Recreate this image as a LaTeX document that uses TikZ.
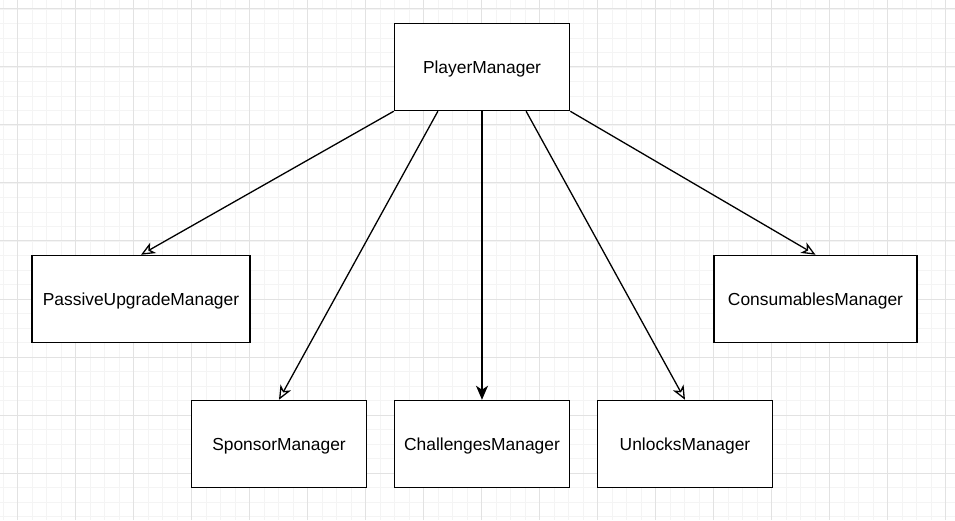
\documentclass[tikz,border=0pt]{standalone}
\usepackage{fontspec}
\setmainfont{Liberation Sans}
\usetikzlibrary{arrows.meta, calc}
\definecolor{gridmajor}{HTML}{E2E2E2}
\definecolor{gridminor}{HTML}{F4F4F4}

\begin{document}
\begin{tikzpicture}[x=1pt, y=1pt, font=\fontsize{17.4}{20}\selectfont,
  mgr/.style={draw, line width=1.5pt, fill=white, minimum width=175pt, minimum height=87pt, inner sep=0pt, text height=12.5pt, text depth=0pt},
  link/.style={line width=1.3pt, -{Stealth[open, length=14pt, width=12pt, inset=4pt]}},
  strong/.style={line width=1.3pt, -{Stealth[length=14pt, width=12pt, inset=4pt]}}]
\useasboundingbox (0,0) rectangle (955,520);
\fill[white] (0,0) rectangle (955,520);
% background grid
\foreach \i in {0,...,65} { \draw[gridminor, line width=0.8pt] ({3+14.5*\i},0) -- ({3+14.5*\i},520); }
\foreach \j in {0,...,35} { \draw[gridminor, line width=0.8pt] (0,{511-14.5*\j}) -- (955,{511-14.5*\j}); }
\foreach \i in {0,...,16} { \draw[gridmajor, line width=1pt] ({17.5+58*\i},0) -- ({17.5+58*\i},520); }
\foreach \j in {0,...,8} { \draw[gridmajor, line width=1pt] (0,{511-58*\j}) -- (955,{511-58*\j}); }

\node[mgr] (player) at (482,453) {PlayerManager};
\node[mgr, minimum width=218pt] (passive) at (141,221) {PassiveUpgradeManager};
\node[mgr, minimum width=203pt] (consum) at (815.5,221) {ConsumablesManager};
\node[mgr] (sponsor) at (279,76) {SponsorManager};
\node[mgr] (challenge) at (482,76) {ChallengesManager};
\node[mgr] (unlock) at (685,76) {UnlocksManager};

\draw[link] (player.south west) -- (passive.north);
\draw[link] ($(player.south west)!0.25!(player.south east)$) -- (sponsor.north);
\draw[strong] (player.south) -- (challenge.north);
\draw[link] ($(player.south west)!0.75!(player.south east)$) -- (unlock.north);
\draw[link] (player.south east) -- (consum.north);
\end{tikzpicture}
\end{document}
